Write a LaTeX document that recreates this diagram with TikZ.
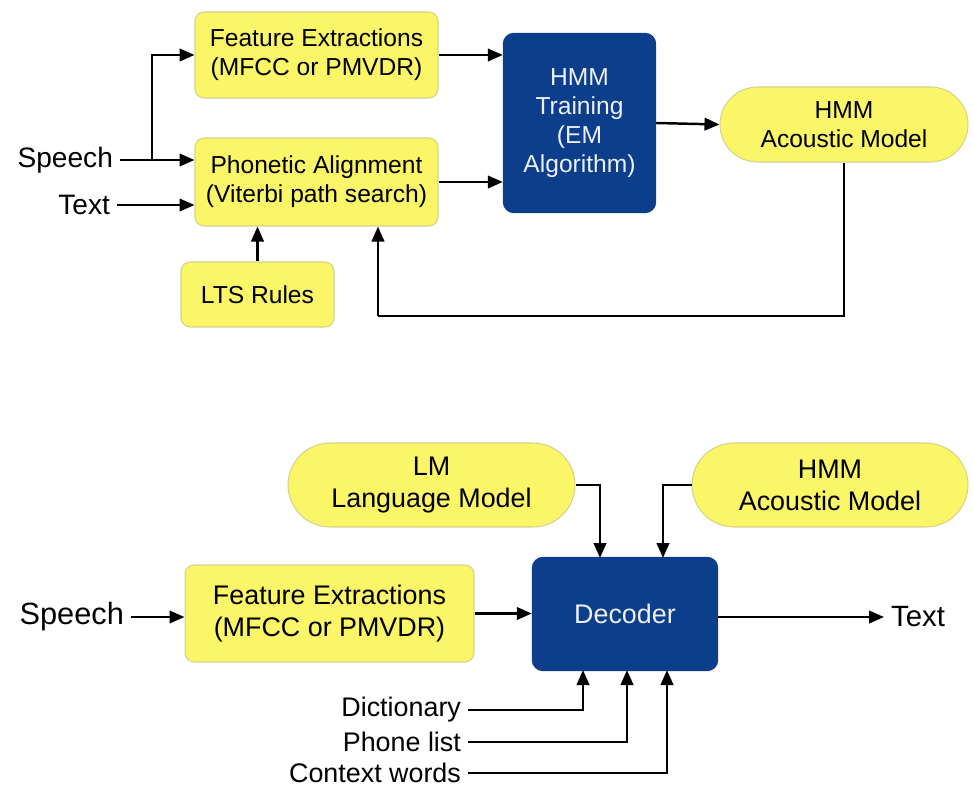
\documentclass[tikz,border=0pt]{standalone}
\usepackage{fontspec}
\setmainfont{Liberation Sans}
\usetikzlibrary{arrows.meta}
\definecolor{boxyellow}{RGB}{250,246,104}
\definecolor{boxedge}{RGB}{214,210,140}
\definecolor{boxblue}{RGB}{12,62,140}
\definecolor{paletext}{RGB}{236,240,248}
\begin{document}
\begin{tikzpicture}[x=0.02cm,y=-0.02cm,line width=1.4pt,->,>={Triangle[length=3mm,width=2.5mm]}]
    \tikzstyle{box}=[rectangle, rounded corners=0.18cm, fill=boxyellow, draw=boxedge, line width=0.6pt, align=center]
    \tikzstyle{pill}=[box, rounded corners=0.8cm]
    \tikzstyle{blue}=[rectangle, rounded corners=0.2cm, fill=boxblue, draw=boxblue, text=paletext, align=center]
    \tikzstyle{small}=[font=\fontsize{14}{16.5}\selectfont]
    \tikzstyle{big}=[font=\fontsize{15.3}{18.2}\selectfont]
    \tikzstyle{lbl}=[font=\fontsize{16}{19}\selectfont]
    \useasboundingbox (0,0) rectangle (974,787);

    % training
    \node[box, small, minimum width=4.86cm, minimum height=1.72cm] (fe1) at (316.5,55) {Feature Extractions\\(MFCC or PMVDR)};
    \node[box, small, minimum width=4.86cm, minimum height=1.76cm] (pa) at (316.5,182) {Phonetic Alignment\\(Viterbi path search)};
    \node[box, small, minimum width=3.06cm, minimum height=1.3cm] (lts) at (257.5,294.5) {LTS Rules};
    \node[blue, small, minimum width=3.02cm, minimum height=3.56cm] (train) at (579.5,123) {HMM\\Training\\(EM\\Algorithm)};
    \node[pill, small, minimum width=4.96cm, minimum height=1.5cm, rounded corners=0.75cm] (am1) at (844,124.5) {HMM\\Acoustic Model};
    \node[lbl, anchor=east] (speech1) at (120,160) {Speech};
    \node[lbl, anchor=east] (text1) at (117,205) {Text};
    \coordinate (br) at (152,160);
    \coordinate (fb) at (378,316);

    \draw (speech1.east) -- (pa.west |- speech1.east);
    \draw (br) |- (fe1.west);
    \draw (text1.east) -- (pa.west |- text1.east);
    \draw (fe1.east) -- (train.west |- fe1.east);
    \draw (pa.east) -- (train.west |- pa.east);
    \draw (train.east) -- (am1.west);
    \draw (lts.north) -- (pa.south -| lts.north);
    \draw[-] (am1.south) |- (fb);
    \draw (fb) -- (fb |- pa.south);

    % decoding
    \node[pill, big, minimum width=5.74cm, minimum height=1.68cm, rounded corners=0.84cm] (lm) at (431.5,485) {LM\\Language Model};
    \node[pill, big, minimum width=5.52cm, minimum height=1.68cm, rounded corners=0.84cm] (am2) at (830,485) {HMM\\Acoustic Model};
    \node[blue, big, minimum width=3.68cm, minimum height=2.24cm] (dec) at (625,614) {Decoder};
    \node[box, big, minimum width=5.78cm, minimum height=1.94cm] (fe2) at (329.5,613.5) {Feature Extractions\\(MFCC or PMVDR)};
    \node[lbl, font=\fontsize{17.5}{20}\selectfont, anchor=east] (speech2) at (131,617) {Speech};
    \node[lbl, font=\fontsize{16.7}{20}\selectfont, anchor=west] (textout) at (884,617) {Text};
    \node[big, anchor=east] (dict) at (468,710) {Dictionary};
    \node[big, anchor=east] (phone) at (468,742) {Phone list};
    \node[big, anchor=east] (ctx) at (468,773) {Context words};
    \coordinate (lmin) at (600,558);
    \coordinate (amin) at (663,558);
    \coordinate (din) at (583,670);
    \coordinate (pin) at (627,670);
    \coordinate (cin) at (667,670);

    \draw (speech2.east) -- (fe2.west |- speech2.east);
    \draw (fe2.east) -- (dec.west |- fe2.east);
    \draw (dec.east |- textout.west) -- (textout.west);
    \draw (lm.east) -| (lmin);
    \draw (am2.west) -| (amin);
    \draw (dict.east) -| (din);
    \draw (phone.east) -| (pin);
    \draw (ctx.east) -| (cin);

\end{tikzpicture}
\end{document}
